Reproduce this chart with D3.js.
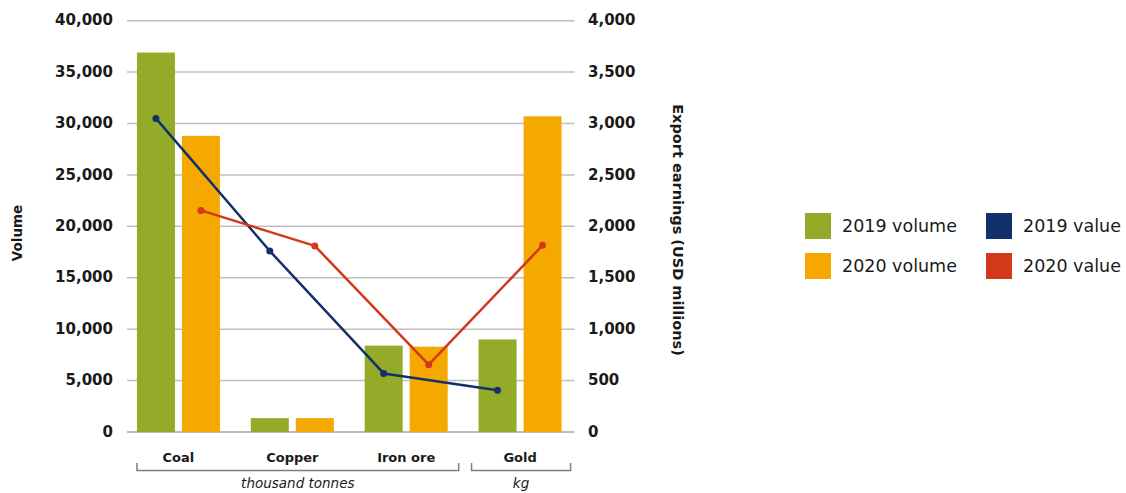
<!DOCTYPE html>
<html>
<head>
<meta charset="utf-8">
<script src="https://cdn.jsdelivr.net/npm/d3@7"></script>
<style>
  html, body { margin: 0; padding: 0; background: #fff; }
  svg { display: block; }
  text { font-family: "DejaVu Sans", sans-serif; fill: #1a1a1a; }
</style>
</head>
<body>
<svg id="chart" width="1126" height="493"></svg>
<script>
// ---- Data ----
const categories = ["Coal", "Copper", "Iron ore", "Gold"];
const volumeSeries = ["2019 volume", "2020 volume"];
const volume2019 = [36900, 1350, 8400, 9000];
const volume2020 = [28800, 1350, 8300, 30700];
const valueSeries = ["2019 value", "2020 value"];
const value2019 = [3050, 1760, 570, 405];
const value2020 = [2155, 1810, 655, 1815];
const leftTicks = [0, 5000, 10000, 15000, 20000, 25000, 30000, 35000, 40000];
const rightTicks = [0, 500, 1000, 1500, 2000, 2500, 3000, 3500, 4000];
const unitGroups = [
  { label: "thousand tonnes", from: "Coal", to: "Iron ore" },
  { label: "kg", from: "Gold", to: "Gold" }
];

const colors = {
  "2019 volume": "#93AB28",
  "2020 volume": "#F5A800",
  "2019 value": "#13306B",
  "2020 value": "#D3381A"
};

const svg = d3.select("#chart");

// ---- Scales ----
const x0 = d3.scaleBand().domain(categories).range([121.5, 577]).paddingInner(0).paddingOuter(0);
const groupW = 83;
const groupOff = (x0.bandwidth() - groupW) / 2;
const x1 = d3.scaleBand().domain(volumeSeries).range([0, groupW]).paddingInner(0.1556).paddingOuter(0);
const yL = d3.scaleLinear().domain([0, 40000]).range([432, 20.7]);
const yR = d3.scaleLinear().domain([0, 4000]).range([432, 20.7]);

const gridX0 = 127, gridX1 = 574.5;

// ---- Gridlines ----
const grid = svg.append("g");
grid.selectAll("line").data(leftTicks).join("line")
  .attr("x1", gridX0).attr("x2", gridX1)
  .attr("y1", d => yL(d)).attr("y2", d => yL(d))
  .attr("stroke", d => d === 0 ? "#a6a6a6" : "#bfbfbf")
  .attr("stroke-width", 1.5);

// ---- Left axis ----
const leftAxis = d3.axisLeft(yL).tickValues(leftTicks).tickSize(0).tickPadding(0)
  .tickFormat(d3.format(","));
const gL = svg.append("g").attr("transform", "translate(113,0)").call(leftAxis);
gL.select(".domain").remove();
gL.selectAll("text").attr("font-size", 15).attr("font-weight", "bold")
  .attr("fill", "#1a1a1a").attr("font-family", "DejaVu Sans").attr("dy", "0.28em");

// ---- Right axis ----
const rightAxis = d3.axisRight(yR).tickValues(rightTicks).tickSize(0).tickPadding(0)
  .tickFormat(d3.format(","));
const gR = svg.append("g").attr("transform", "translate(588,0)").call(rightAxis);
gR.select(".domain").remove();
gR.selectAll("text").attr("font-size", 15).attr("font-weight", "bold")
  .attr("fill", "#1a1a1a").attr("font-family", "DejaVu Sans").attr("dy", "0.28em");

// ---- Bars ----
const barData = [];
categories.forEach((c, i) => {
  barData.push({ cat: c, s: "2019 volume", v: volume2019[i] });
  barData.push({ cat: c, s: "2020 volume", v: volume2020[i] });
});
svg.append("g").selectAll("rect").data(barData).join("rect")
  .attr("x", d => x0(d.cat) + groupOff + x1(d.s))
  .attr("width", x1.bandwidth())
  .attr("y", d => yL(d.v))
  .attr("height", d => yL(0) - yL(d.v))
  .attr("fill", d => colors[d.s]);

// ---- Lines ----
const lineSets = [
  { s: "2019 value", vals: value2019, bar: "2019 volume" },
  { s: "2020 value", vals: value2020, bar: "2020 volume" }
];
const px = (cat, bar) => x0(cat) + groupOff + x1(bar) + x1.bandwidth() / 2;
lineSets.forEach(ls => {
  const pts = categories.map((c, i) => [px(c, ls.bar), yR(ls.vals[i])]);
  svg.append("path")
    .attr("d", d3.line()(pts))
    .attr("fill", "none")
    .attr("stroke", colors[ls.s])
    .attr("stroke-width", 2.5)
    .attr("stroke-linejoin", "round");
  svg.append("g").selectAll("circle").data(pts).join("circle")
    .attr("cx", d => d[0]).attr("cy", d => d[1]).attr("r", 3.5)
    .attr("fill", colors[ls.s]);
});

// ---- Category labels ----
svg.append("g").selectAll("text").data(categories).join("text")
  .attr("x", d => x0(d) + x0.bandwidth() / 2)
  .attr("y", 462)
  .attr("text-anchor", "middle")
  .attr("font-size", 13)
  .attr("font-weight", "bold")
  .text(d => d);

// ---- Unit brackets ----
const bracketY = 470.5, bracketTop = 463;
const bracketPos = {
  "thousand tonnes": [x0("Coal") + groupOff, x0("Iron ore") + groupOff + groupW + 11],
  "kg": [x0("Gold") + groupOff - 7, x0("Gold") + groupOff + groupW + 9]
};
unitGroups.forEach(g => {
  const [a, b] = bracketPos[g.label];
  svg.append("path")
    .attr("d", `M${a},${bracketTop}V${bracketY}H${b}V${bracketTop}`)
    .attr("fill", "none").attr("stroke", "#7f7f7f").attr("stroke-width", 1.5);
  svg.append("text")
    .attr("x", (a + b) / 2).attr("y", 487.5)
    .attr("text-anchor", "middle")
    .attr("font-size", 13.5)
    .attr("font-style", "italic")
    .text(g.label);
});

// ---- Axis titles ----
svg.append("text")
  .attr("transform", "translate(22,233) rotate(-90)")
  .attr("text-anchor", "middle")
  .attr("font-size", 13.5)
  .attr("font-weight", "bold")
  .text("Volume");

svg.append("text")
  .attr("transform", "translate(673,230) rotate(90)")
  .attr("text-anchor", "middle")
  .attr("font-size", 14.5)
  .attr("font-weight", "bold")
  .text("Export earnings (USD millions)");

// ---- Legend ----
const legendItems = [
  { s: "2019 volume", x: 805, y: 213 },
  { s: "2020 volume", x: 805, y: 253 },
  { s: "2019 value", x: 986, y: 213 },
  { s: "2020 value", x: 986, y: 253 }
];
const lg = svg.append("g").selectAll("g").data(legendItems).join("g")
  .attr("transform", d => `translate(${d.x},${d.y})`);
lg.append("rect").attr("width", 26).attr("height", 26).attr("fill", d => colors[d.s]);
lg.append("text").attr("x", 37).attr("y", 13).attr("dy", "0.36em")
  .attr("font-size", 17.5).text(d => d.s);
</script>
</body>
</html>
